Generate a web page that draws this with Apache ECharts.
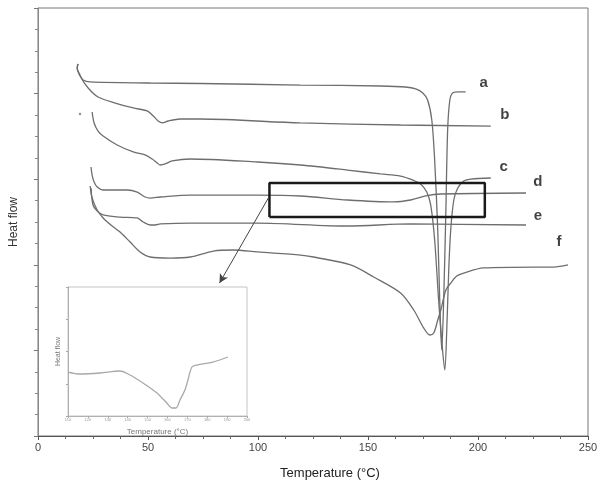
<!DOCTYPE html>
<html><head><meta charset="utf-8">
<script src="https://cdn.jsdelivr.net/npm/echarts@6/dist/echarts.min.js"></script>
<style>html,body{margin:0;padding:0;background:#fff}#c{width:604px;height:489px}</style>
</head><body><div id="c"></div>
<script>
// Main DSC curves: [temperature (°C), heat flow (a.u.)]
const curveA = [[18.2,4.346],[17.8,4.299],[19.1,4.217],[20.5,4.159],[23.7,4.136],[51.0,4.124],[73.8,4.118],[119.3,4.100],[155.7,4.089],[167.1,4.077],[171.7,4.054],[174.9,4.007],[177.1,3.925],[179.0,3.692],[180.3,3.224],[181.7,2.407],[182.6,1.589],[183.5,1.005],[184.4,1.589],[185.4,2.640],[186.2,3.575],[187.2,3.925],[188.5,4.007],[191.2,4.019],[194.4,4.019]];
const curveB = [[18.2,4.346],[17.8,4.299],[19.1,4.206],[22.8,4.065],[27.3,3.960],[35.1,3.890],[43.3,3.832],[49.6,3.797],[52.4,3.738],[54.6,3.680],[56.5,3.657],[59.2,3.680],[64.7,3.703],[73.8,3.703],[119.3,3.657],[164.8,3.633],[205.8,3.621]];
const curveC = [[24.6,3.785],[25.5,3.657],[27.3,3.563],[29.6,3.505],[36.0,3.400],[43.3,3.318],[48.7,3.283],[51.9,3.236],[54.2,3.189],[55.6,3.166],[57.8,3.178],[61.0,3.213],[69.2,3.236],[99.7,3.201],[119.3,3.166],[140.7,3.107],[155.7,3.061],[164.8,3.037],[170.3,2.991],[173.9,2.944],[176.7,2.850],[178.5,2.699],[180.3,2.290],[182.1,1.589],[183.5,1.121],[184.9,0.771],[185.8,1.238],[186.7,1.939],[187.6,2.407],[189.0,2.757],[190.8,2.897],[193.5,2.979],[196.7,3.002],[205.8,3.014]];
const curveD = [[24.1,3.143],[24.6,3.049],[25.5,2.967],[26.9,2.909],[29.6,2.874],[40.5,2.874],[45.1,2.850],[48.7,2.792],[51.0,2.780],[55.6,2.792],[69.2,2.815],[99.7,2.815],[119.3,2.804],[140.7,2.757],[161.7,2.734],[169.4,2.757],[176.2,2.804],[183.1,2.827],[221.8,2.839]];
const curveE = [[24.1,2.897],[25.0,2.699],[26.9,2.629],[29.6,2.582],[37.3,2.558],[45.1,2.547],[47.8,2.500],[51.0,2.465],[53.3,2.465],[55.6,2.477],[69.2,2.488],[99.7,2.488],[140.7,2.453],[169.4,2.477],[221.8,2.465]];
const curveF = [[23.7,2.921],[24.6,2.780],[26.9,2.640],[29.6,2.547],[33.7,2.453],[37.3,2.383],[41.9,2.266],[46.4,2.150],[51.0,2.091],[60.1,2.079],[69.2,2.091],[79.7,2.161],[88.8,2.173],[99.7,2.150],[119.3,2.114],[125.2,2.091],[142.1,1.998],[152.6,1.857],[164.8,1.671],[170.8,1.472],[175.3,1.262],[178.1,1.180],[179.9,1.203],[181.7,1.355],[183.1,1.472],[185.4,1.706],[187.6,1.787],[190.3,1.869],[193.5,1.904],[202.6,1.963],[225.4,1.974],[234.5,1.974],[240.9,1.998]];
const strayDot = [[19.1,3.762]];
// Curve labels
const labelNames = ['a','b','c','d','e','f'];
const labelPos = [[202.6,4.124],[212.2,3.750],[211.7,3.143],[227.2,2.967],[227.2,2.570],[236.8,2.266]];
// Zoom box and arrow (data coordinates)
const boxT = [105.2, 203.1];
const boxH = [2.558, 2.956];
const arrowFrom = [104.7, 2.780];
const arrowTo = [82.5, 1.787];
// Inset curve
const insetCurve = [[110.0,1.364],[116.0,1.302],[126.1,1.333],[136.1,1.395],[141.2,1.271],[147.7,1.023],[154.7,0.713],[159.7,0.403],[162.3,0.248],[164.3,0.248],[166.3,0.496],[168.8,0.806],[170.3,1.116],[172.3,1.519],[174.8,1.581],[182.9,1.674],[190.4,1.829]];
const xTicksMain = [0, 250, 50];
const insetX = [110, 200, 10];

const chart = echarts.init(document.getElementById('c'), null, {renderer:'canvas'});
const lineColor = '#6e6e6e';
const mk = (d) => ({type:'line', data:d, xAxisIndex:0, yAxisIndex:0, showSymbol:false, symbol:'none', smooth:0.3,
  lineStyle:{color:lineColor, width:1.3}, animation:false, z:3});
const boxData = [[boxT[0],boxH[0]],[boxT[1],boxH[0]],[boxT[1],boxH[1]],[boxT[0],boxH[1]],[boxT[0],boxH[0]]];

chart.setOption({
  animation:false,
  textStyle:{fontFamily:'Liberation Sans, Arial, sans-serif'},
  grid:[
    {left:38, top:8, right:16, bottom:53, show:true, borderColor:'#777', borderWidth:1, containLabel:false, outerBoundsMode:'none'},
    {left:68, top:287, width:179, height:129, show:true, borderColor:'#c4c4c4', borderWidth:1, backgroundColor:'#fff', z:5, containLabel:false, outerBoundsMode:'none'}
  ],
  xAxis:[
    {type:'value', gridIndex:0, min:xTicksMain[0], max:xTicksMain[1], interval:xTicksMain[2],
     axisLine:{lineStyle:{color:'#555', width:1}},
     axisTick:{show:true, inside:false, length:4, lineStyle:{color:'#555'}},
     minorTick:{show:true, splitNumber:4, length:3, lineStyle:{color:'#666'}},
     splitLine:{show:false},
     axisLabel:{color:'#444', fontSize:11, margin:6},
     name:'Temperature (°C)', nameLocation:'middle', nameGap:31,
     nameTextStyle:{color:'#222', fontSize:13, padding:[0,0,0,34]}},
    {type:'value', gridIndex:1, min:insetX[0], max:insetX[1], interval:insetX[2],
     axisLine:{lineStyle:{color:'#b0b0b0'}},
     axisTick:{show:true, length:2, lineStyle:{color:'#aaa'}},
     splitLine:{show:false},
     axisLabel:{color:'#999', fontSize:4, margin:2},
     name:'Temperature (°C)', nameLocation:'middle', nameGap:12,
     nameTextStyle:{color:'#777', fontSize:8}, z:6}
  ],
  yAxis:[
    {type:'value', gridIndex:0, min:0, max:5, interval:1,
     axisLine:{show:true, lineStyle:{color:'#888'}},
     axisTick:{show:true, length:4, lineStyle:{color:'#777'}},
     minorTick:{show:true, splitNumber:4, length:3, lineStyle:{color:'#888'}},
     splitLine:{show:false}, axisLabel:{show:false},
     name:'Heat flow', nameLocation:'middle', nameGap:18,
     nameTextStyle:{color:'#333', fontSize:12}},
    {type:'value', gridIndex:1, min:0, max:4, interval:1,
     axisLine:{show:true, lineStyle:{color:'#b0b0b0'}},
     axisTick:{show:true, length:2, lineStyle:{color:'#aaa'}},
     splitLine:{show:false}, axisLabel:{show:false},
     name:'Heat flow', nameLocation:'middle', nameGap:6,
     nameTextStyle:{color:'#777', fontSize:7}, z:6}
  ],
  series:[
    mk(curveA), mk(curveB), mk(curveC), mk(curveD), mk(curveE), mk(curveF),
    {type:'scatter', data:strayDot, symbolSize:2.5, itemStyle:{color:'#777'}, z:3},
    {type:'line', data:boxData, showSymbol:false, symbol:'none', lineStyle:{color:'#1a1a1a', width:2.5}, z:4,
     markLine:{silent:true, symbol:['none','arrow'], symbolSize:[7,9], label:{show:false},
       lineStyle:{color:'#444', width:1, type:'solid'},
       data:[[{coord:arrowFrom},{coord:arrowTo}]]}},
    {type:'scatter', data:labelPos.map((p,i)=>({name:labelNames[i], value:p})), symbolSize:0,
     label:{show:true, position:'inside', formatter:'{b}', fontSize:15, fontWeight:'bold', color:'#111'}, z:6},
    {type:'line', xAxisIndex:1, yAxisIndex:1, data:insetCurve, showSymbol:false, symbol:'none', smooth:0.3,
     lineStyle:{color:'#a8a8a8', width:1.3}, z:7}
  ]
});
</script></body></html>
